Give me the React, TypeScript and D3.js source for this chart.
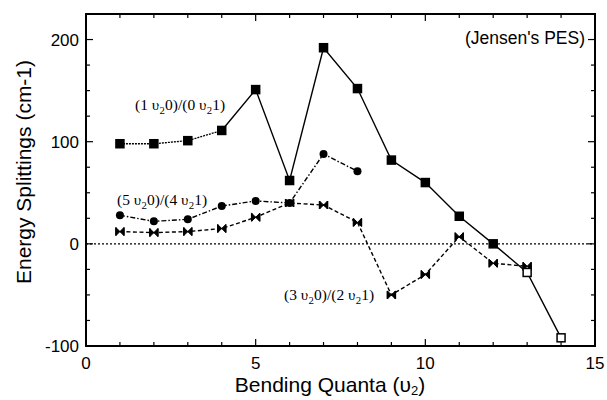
import React from 'react';
import * as d3 from 'd3';

// bending quanta
const quanta = [1, 2, 3, 4, 5, 6, 7, 8, 9, 10, 11, 12, 13, 14];
// (1 v2 0)/(0 v2 1) splittings
const split10 = [98, 98, 101, 111, 151, 62, 192, 152, 82, 60, 27, 0, -28, -92];
// (5 v2 0)/(4 v2 1) splittings
const split54 = [28, 22, 24, 37, 42, 40, 88, 71];
// (3 v2 0)/(2 v2 1) splittings
const split32 = [12, 11, 12, 15, 26, 40, 38, 21, -50, -30, 7, -19, -22];

const xTicks = [0, 5, 10, 15];
const yTicks = [-100, 0, 100, 200];

const W = 607;
const H = 400;

const x = d3.scaleLinear().domain([0, 15]).range([86, 595]);
const y = d3.scaleLinear().domain([-100, 225]).range([346, 14]);

const line = d3.line<[number, number]>()
  .x(d => x(d[0]))
  .y(d => y(d[1]));

const sans = '"Liberation Sans", Arial, Helvetica, sans-serif';
const serif = '"Liberation Serif", "Times New Roman", serif';

const pts = (vals: number[]) => vals.map((v, i) => [quanta[i], v] as [number, number]);

// label with white halo so the lines look broken behind it
const Label = ({ lx, ly, a, b, c, d }: { lx: number; ly: number; a: string; b: string; c: string; d: string }) => (
  <text x={lx} y={ly} fontFamily={serif} fontSize={15.5} fill="#000"
    stroke="#fff" strokeWidth={4} paintOrder="stroke" strokeLinejoin="round">
    ({a} υ<tspan dy={4} fontSize={11}>2</tspan><tspan dy={-4}>{b})/({c} υ</tspan>
    <tspan dy={4} fontSize={11}>2</tspan><tspan dy={-4}>{d})</tspan>
  </text>
);

const App = () => {
  const p10 = pts(split10);
  const p54 = pts(split54);
  const p32 = pts(split32);

  const minorX = d3.range(0, 16, 1);
  const minorY = d3.range(-100, 226, 25);
  const [x0, x1] = x.range();
  const [y0, y1] = y.range();

  return (
    <div style={{ position: 'absolute', left: 0, top: 0 }}>
      <svg width={W} height={H} style={{ display: 'block', background: '#fff' }}>
        {/* zero line */}
        <line x1={x0} x2={x1} y1={y(0)} y2={y(0)} stroke="#000" strokeWidth={1.2} strokeDasharray="2,2" />

        {/* frame */}
        <rect x={x0} y={y1} width={x1 - x0} height={y0 - y1} fill="none" stroke="#000" strokeWidth={2} />

        {/* ticks, inside on all sides */}
        {minorX.map(t => {
          const len = t % 5 === 0 ? 7 : 4;
          return (
            <g key={'tx' + t} stroke="#000" strokeWidth={1.2}>
              <line x1={x(t)} x2={x(t)} y1={y0} y2={y0 - len} />
              <line x1={x(t)} x2={x(t)} y1={y1} y2={y1 + len} />
            </g>
          );
        })}
        {minorY.map(t => {
          const len = t % 100 === 0 ? 7 : 4;
          return (
            <g key={'ty' + t} stroke="#000" strokeWidth={1.2}>
              <line x1={x0} x2={x0 + len} y1={y(t)} y2={y(t)} />
              <line x1={x1} x2={x1 - len} y1={y(t)} y2={y(t)} />
            </g>
          );
        })}

        {xTicks.map(t => (
          <text key={'lx' + t} x={x(t)} y={369} textAnchor="middle" fontFamily={sans} fontSize={17}>{t}</text>
        ))}
        {yTicks.map(t => (
          <text key={'ly' + t} x={79} y={y(t) + 6} textAnchor="end" fontFamily={sans} fontSize={17}>{t}</text>
        ))}

        {/* axis titles */}
        <text x={330} y={392} textAnchor="middle" fontFamily={sans} fontSize={21}>
          Bending Quanta (υ<tspan dy={3} fontSize={13}>2</tspan><tspan dy={-3}>)</tspan>
        </text>
        <text transform={`translate(31,172) rotate(-90)`} textAnchor="middle" fontFamily={sans} fontSize={21}>
          Energy Splittings (cm-1)
        </text>

        {/* (1 v2 0)/(0 v2 1): dotted start, solid after */}
        <path d={line(p10.slice(0, 4)) || ''} fill="none" stroke="#000" strokeWidth={1.3} strokeDasharray="2,1" />
        <path d={line(p10.slice(3)) || ''} fill="none" stroke="#000" strokeWidth={1.4} />

        {/* (5 v2 0)/(4 v2 1) dash-dot */}
        <path d={line(p54) || ''} fill="none" stroke="#000" strokeWidth={1.4} strokeDasharray="5,2,1.5,2" />

        {/* (3 v2 0)/(2 v2 1) dashed */}
        <path d={line(p32) || ''} fill="none" stroke="#000" strokeWidth={1.4} strokeDasharray="4,2.5" />

        {/* labels */}
        <Label lx={135} ly={110} a="1" b="0" c="0" d="1" />
        <Label lx={117} ly={205} a="5" b="0" c="4" d="1" />
        <Label lx={284} ly={300} a="3" b="0" c="2" d="1" />

        <text x={585} y={44} textAnchor="end" fontFamily={sans} fontSize={17.5}>(Jensen's PES)</text>

        {/* markers */}
        {p54.map((d, i) => (
          <circle key={'c' + i} cx={x(d[0])} cy={y(d[1])} r={4} fill="#000" />
        ))}
        {p32.map((d, i) => (
          <g key={'b' + i} transform={`translate(${x(d[0])},${y(d[1])})`}>
            <path d="M-4,-4L4,4L4,-4L-4,4Z" fill="#000" stroke="#000" strokeWidth={1} />
            <line x1={-4} x2={-4} y1={-4} y2={4} stroke="#000" strokeWidth={1.5} />
            <line x1={4} x2={4} y1={-4} y2={4} stroke="#000" strokeWidth={1.5} />
          </g>
        ))}
        {p10.map((d, i) => {
          const open = d[0] >= 13;
          return (
            <rect key={'s' + i} x={x(d[0]) - 4} y={y(d[1]) - 4} width={8} height={8}
              fill={open ? '#fff' : '#000'} stroke="#000" strokeWidth={1.5} />
          );
        })}
      </svg>
    </div>
  );
};

export default App;
